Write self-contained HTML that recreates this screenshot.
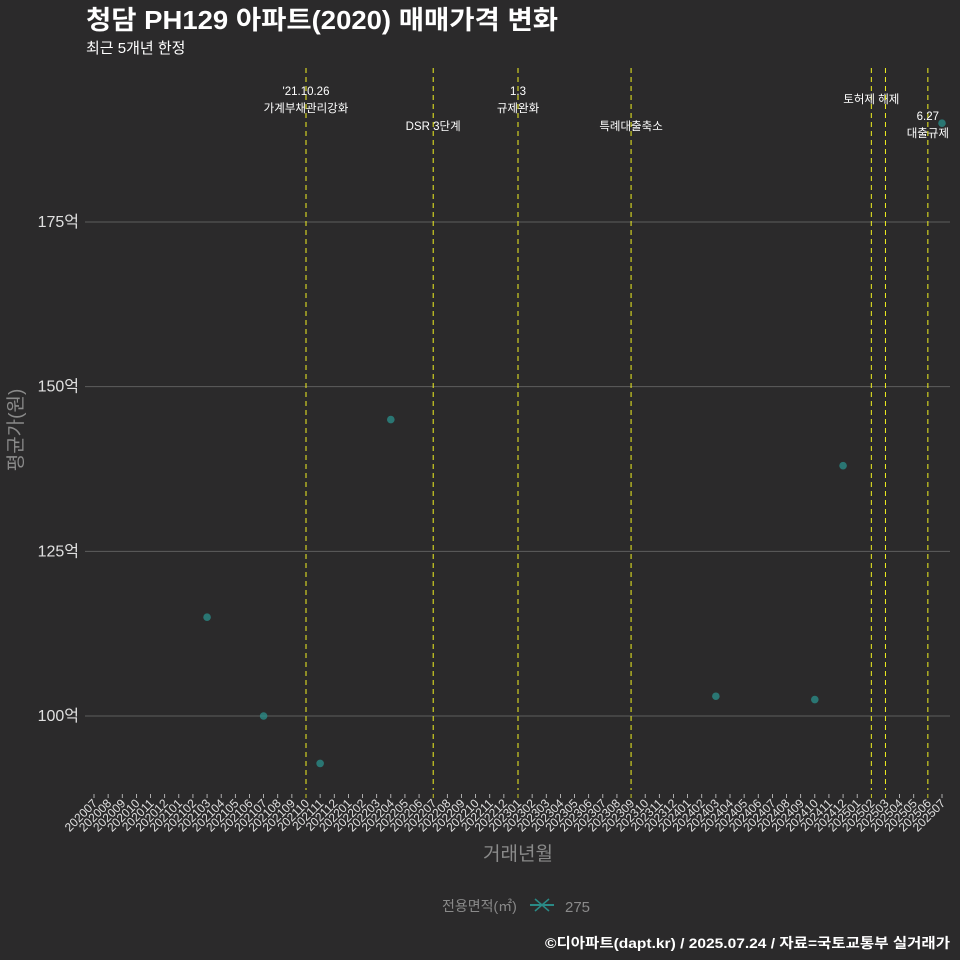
<!DOCTYPE html>
<html><head><meta charset="utf-8">
<style>
body{margin:0;background:#2b2a2b;}
svg{display:block;font-family:"Liberation Sans","Noto Sans CJK KR",sans-serif;}
</style></head>
<body>
<svg id="chart" width="960" height="960" viewBox="0 0 960 960">
<rect width="960" height="960" fill="#2b2a2b"/>
<text x="86" y="29" fill="#ffffff" font-size="26" font-weight="bold" textLength="472" lengthAdjust="spacingAndGlyphs">청담 PH129 아파트(2020) 매매가격 변화</text>
<text x="86" y="53" fill="#ffffff" font-size="15">최근 5개년 한정</text>
<g id="grid"></g><g id="vlines"></g><g id="marks"></g><g id="xaxis"></g><g id="yaxis"></g>
<text transform="translate(22,430) rotate(-90)" text-anchor="middle" fill="#8a8a8a" font-size="19">평균가(원)</text>
<text x="518" y="860" text-anchor="middle" fill="#8a8a8a" font-size="19">거래년월</text>
<g>
<text x="442" y="911" fill="#8a8a8a" font-size="14">전용면적(㎡)</text>
<g>
<line x1="530" y1="905" x2="554" y2="905" stroke="#2a8a86" stroke-width="2"/>
<line x1="535" y1="899" x2="549" y2="911" stroke="#2a8a86" stroke-width="1.5"/>
<line x1="535" y1="911" x2="549" y2="899" stroke="#2a8a86" stroke-width="1.5"/>
<text x="565" y="912" fill="#8a8a8a" font-size="15">275</text></g>
</g>
<text x="950" y="948" text-anchor="end" fill="#ffffff" font-size="14" font-weight="bold" textLength="405" lengthAdjust="spacingAndGlyphs">©디아파트(dapt.kr) / 2025.07.24 / 자료=국토교통부 실거래가</text>
</svg>
<script>
const months=[];for(let y=2020;y<=2025;y++)for(let m=1;m<=12;m++){const k=y*100+m;if(k>=202007&&k<=202507)months.push(String(k));}
const yTicks=[100,125,150,175];
const yTickLabels=["100억","125억","150억","175억"];
const pointMonths=["202103","202107","202111","202204","202403","202410","202412","202507"];
const pointValues=[115,100,92.8,145,103,102.5,138,190];
const eventMonths=["202110","202207","202301","202309","202502","202503","202506"];
const eventLabels=[["'21.10.26","가계부채관리강화"],["DSR 3단계"],["1.3","규제완화"],["특례대출축소"],["토허제 해제"],[],["6.27","대출규제"]];
const eventLabelY=[95,130,95,130,103,0,120];
const NS="http://www.w3.org/2000/svg";
const xs=m=>94+months.indexOf(m)*(848/60);
const ys=v=>716-(v-100)*(494/75);
const X0=85,X1=950,Y0=68,Y1=790;
function mk(t,a,p){const e=document.createElementNS(NS,t);for(const k in a)e.setAttribute(k,a[k]);p.appendChild(e);return e;}
const g=document.getElementById('grid');
yTicks.forEach((v,i)=>{const l=mk('line',{x1:X0,x2:X1,y1:ys(v),y2:ys(v),stroke:'#5e5e5e','stroke-width':1},g);


const t=mk('text',{x:79,y:ys(v)+5,'text-anchor':'end',fill:'#e0e0e0','font-size':16},document.getElementById('yaxis'));
t.textContent=yTickLabels[i];

});
const vl=document.getElementById('vlines');
eventMonths.forEach((m,i)=>{const x=xs(m);
const l=mk('line',{x1:x,x2:x,y1:Y0,y2:Y1,stroke:'#f0f020','stroke-width':1,'stroke-dasharray':'5,4'},vl);


eventLabels[i].forEach((s,j)=>{const t=mk('text',{x:x,y:eventLabelY[i]+j*17,'text-anchor':'middle',fill:'#ffffff','font-size':11.5},vl);
t.textContent=s;

});});
const mg=document.getElementById('marks');
pointMonths.forEach((m,i)=>{const c=mk('circle',{cx:xs(m),cy:ys(pointValues[i]),r:3.8,fill:'#2a8a86','fill-opacity':0.8},mg);

});
const xa=document.getElementById('xaxis');
months.forEach(m=>{const x=xs(m);
mk('line',{x1:x,x2:x,y1:794,y2:798,stroke:eventMonths.includes(m)?'#f0f020':'#cfcfcf','stroke-width':0.8},xa);
const t=mk('text',{x:0,y:0,transform:`translate(${x+4},${804}) rotate(-45)`,'text-anchor':'end',fill:'#e0e0e0','font-size':12},xa);
t.textContent=m;

});
</script>
</body></html>
